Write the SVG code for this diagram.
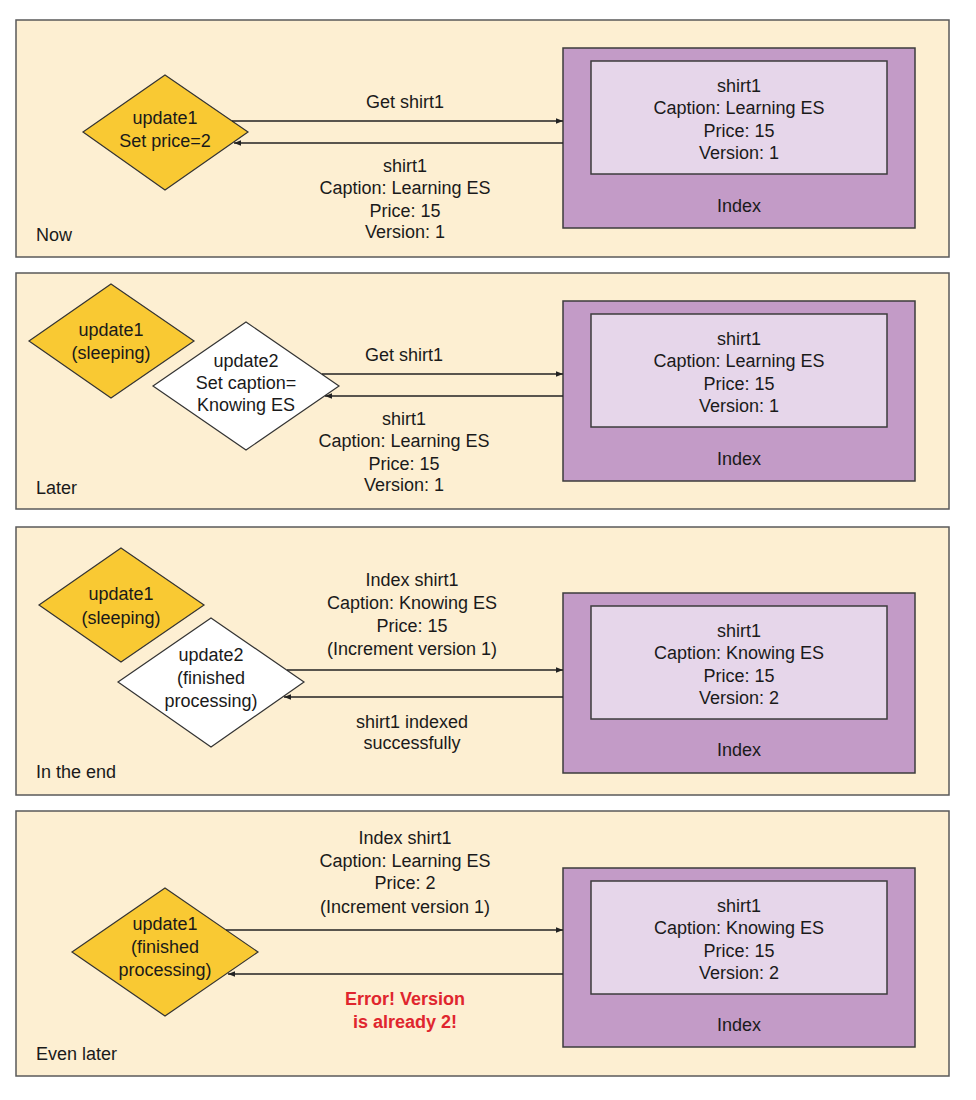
<svg xmlns="http://www.w3.org/2000/svg" width="976" height="1100" viewBox="0 0 976 1100">
<style>
text{font-family:"Liberation Sans",Arial,Helvetica,sans-serif;font-size:18px;fill:#1a1a1a}
.c{text-anchor:middle}
.panel{fill:#FDEFD2;stroke:#5a5a5a;stroke-width:1.5}
.outer{fill:#C39BC7;stroke:#3d3d3d;stroke-width:1.5}
.inner{fill:#E6D6EA;stroke:#3d3d3d;stroke-width:1.5}
.yel{fill:#F9C933;stroke:#333;stroke-width:1.2}
.wht{fill:#ffffff;stroke:#333;stroke-width:1.2}
.ln{stroke:#222;stroke-width:1.3;fill:none;marker-end:url(#ah)}
.err{fill:#E0262E;font-weight:bold}
</style>
<defs>
<marker id="ah" viewBox="0 0 10 10" refX="10" refY="5" markerWidth="9" markerHeight="7" markerUnits="userSpaceOnUse" orient="auto">
<path d="M0,1 L10,5 L0,9 z" fill="#222"/>
</marker>
</defs>
<rect width="976" height="1100" fill="#ffffff"/>

<g id="panel1">
<rect class="panel" x="16" y="20" width="933" height="237"/>
<text x="36" y="241">Now</text>
</g>
<g id="index1">
<rect class="outer" x="563" y="48" width="352" height="180"/>
<rect class="inner" x="591" y="61" width="296" height="113"/>
<text class="c" x="739" y="92">shirt1</text>
<text class="c" x="739" y="114">Caption: Learning ES</text>
<text class="c" x="739" y="137">Price: 15</text>
<text class="c" x="739" y="159">Version: 1</text>
<text class="c" x="739" y="212">Index</text>
</g>
<g id="p1-update1">
<polygon class="yel" points="165,75 248,132 165,190 83,132"/>
<text class="c" x="165" y="124">update1</text>
<text class="c" x="165" y="147">Set price=2</text>
</g>

<g id="panel2">
<rect class="panel" x="16" y="273" width="933" height="236"/>
<text x="36" y="494">Later</text>
</g>
<g id="index2">
<rect class="outer" x="563" y="301" width="352" height="180"/>
<rect class="inner" x="591" y="314" width="296" height="113"/>
<text class="c" x="739" y="345">shirt1</text>
<text class="c" x="739" y="367">Caption: Learning ES</text>
<text class="c" x="739" y="390">Price: 15</text>
<text class="c" x="739" y="412">Version: 1</text>
<text class="c" x="739" y="465">Index</text>
</g>
<g id="p2-update1">
<polygon class="yel" points="111,284 194,341 111,398 29,341"/>
<text class="c" x="111" y="336">update1</text>
<text class="c" x="111" y="359">(sleeping)</text>
</g>
<g id="p2-update2">
<polygon class="wht" points="246,322 339,386 246,450 153,386"/>
<text class="c" x="246" y="367">update2</text>
<text class="c" x="246" y="389">Set caption=</text>
<text class="c" x="246" y="411">Knowing ES</text>
</g>

<g id="panel3">
<rect class="panel" x="16" y="527" width="933" height="268"/>
<text x="36" y="778">In the end</text>
</g>
<g id="index3">
<rect class="outer" x="563" y="593" width="352" height="180"/>
<rect class="inner" x="591" y="606" width="296" height="113"/>
<text class="c" x="739" y="637">shirt1</text>
<text class="c" x="739" y="659">Caption: Knowing ES</text>
<text class="c" x="739" y="682">Price: 15</text>
<text class="c" x="739" y="704">Version: 2</text>
<text class="c" x="739" y="756">Index</text>
</g>
<g id="p3-update1">
<polygon class="yel" points="121,548 204,605 121,662 39,605"/>
<text class="c" x="121" y="600">update1</text>
<text class="c" x="121" y="624">(sleeping)</text>
</g>
<g id="p3-update2">
<polygon class="wht" points="211,618 304,682 211,747 118,682"/>
<text class="c" x="211" y="661">update2</text>
<text class="c" x="211" y="684">(finished</text>
<text class="c" x="211" y="707">processing)</text>
</g>

<g id="panel4">
<rect class="panel" x="16" y="811" width="933" height="265"/>
<text x="36" y="1060">Even later</text>
</g>
<g id="index4">
<rect class="outer" x="563" y="868" width="352" height="179"/>
<rect class="inner" x="591" y="881" width="296" height="113"/>
<text class="c" x="739" y="912">shirt1</text>
<text class="c" x="739" y="934">Caption: Knowing ES</text>
<text class="c" x="739" y="957">Price: 15</text>
<text class="c" x="739" y="979">Version: 2</text>
<text class="c" x="739" y="1031">Index</text>
</g>
<g id="p4-update1">
<polygon class="yel" points="165,888 258,952 165,1016 72,952"/>
<text class="c" x="165" y="930">update1</text>
<text class="c" x="165" y="953">(finished</text>
<text class="c" x="165" y="976">processing)</text>
</g>

<g id="connectors">
<line class="ln" x1="232" y1="121" x2="563" y2="121"/>
<line class="ln" x1="563" y1="143" x2="234" y2="143"/>
<text class="c" x="405" y="108">Get shirt1</text>
<text class="c" x="405" y="172">shirt1</text>
<text class="c" x="405" y="194">Caption: Learning ES</text>
<text class="c" x="405" y="217">Price: 15</text>
<text class="c" x="405" y="238">Version: 1</text>

<line class="ln" x1="322" y1="374" x2="563" y2="374"/>
<line class="ln" x1="563" y1="396" x2="325" y2="396"/>
<text class="c" x="404" y="361">Get shirt1</text>
<text class="c" x="404" y="425">shirt1</text>
<text class="c" x="404" y="447">Caption: Learning ES</text>
<text class="c" x="404" y="470">Price: 15</text>
<text class="c" x="404" y="491">Version: 1</text>

<line class="ln" x1="287" y1="670" x2="563" y2="670"/>
<line class="ln" x1="563" y1="697" x2="284" y2="697"/>
<text class="c" x="412" y="586">Index shirt1</text>
<text class="c" x="412" y="609">Caption: Knowing ES</text>
<text class="c" x="412" y="632">Price: 15</text>
<text class="c" x="412" y="655">(Increment version 1)</text>
<text class="c" x="412" y="728">shirt1 indexed</text>
<text class="c" x="412" y="749">successfully</text>

<line class="ln" x1="226" y1="930" x2="563" y2="930"/>
<line class="ln" x1="563" y1="974" x2="228" y2="974"/>
<text class="c" x="405" y="844">Index shirt1</text>
<text class="c" x="405" y="867">Caption: Learning ES</text>
<text class="c" x="405" y="889">Price: 2</text>
<text class="c" x="405" y="913">(Increment version 1)</text>
<text class="c err" x="405" y="1005">Error! Version</text>
<text class="c err" x="405" y="1028">is already 2!</text>
</g>
</svg>
